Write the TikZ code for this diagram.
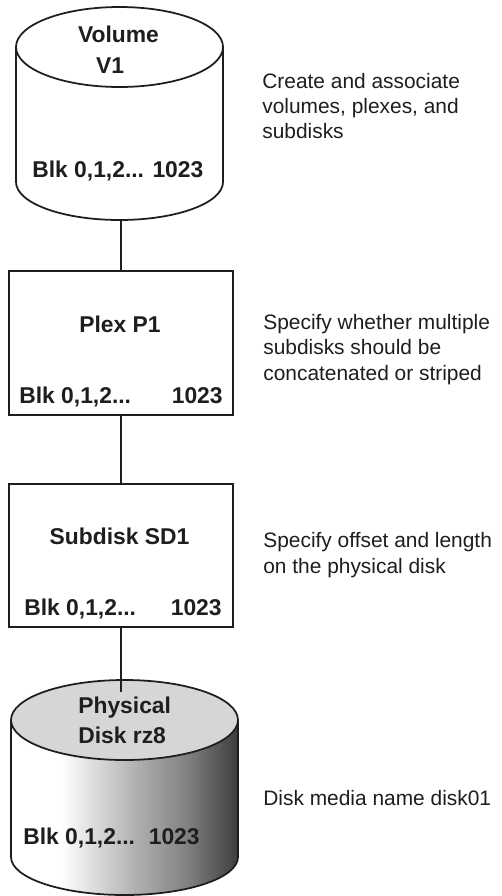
\documentclass[tikz,border=0pt]{standalone}
\usepackage{fontspec}
\setmainfont{Liberation Sans}
\definecolor{ink}{HTML}{1E1E1E}
\definecolor{diskTop}{HTML}{D6D6D6}
% side of the physical disk: white on the left, darkening to the right
\pgfdeclarehorizontalshading{diskside}{100bp}{%
  color(0bp)=(white); color(25bp)=(white); color(36bp)=(white);
  color(52bp)=(black!30); color(64bp)=(black!50); color(75bp)=(black!76);
  color(100bp)=(black!76)}
\begin{document}
\begin{tikzpicture}[x=0.02cm,y=-0.02cm,
  cyl/.style={draw=ink,line width=1pt},
  layerbox/.style={draw=ink,line width=1.4pt,fill=white,minimum width=4.48cm,inner sep=0pt},
  conn/.style={draw=ink,line width=0.6pt},
  lbl/.style={inner sep=0pt,text=ink,font=\fontsize{13}{15}\selectfont\bfseries},
  note/.style={inner sep=0pt,text=ink,align=left,font=\fontsize{11.9}{14.3}\selectfont}]
\useasboundingbox[fill=white] (0,0) rectangle (502,896);

% volume cylinder
\draw[cyl,fill=white] (16,47) -- (16,182)
  arc[start angle=180,end angle=0,x radius=103.5,y radius=38] -- (223,47);
\draw[cyl] (119.5,47) ellipse [x radius=103.5,y radius=40];
\coordinate (volbot) at (121,220);
\node[lbl,anchor=base] (voltitle) at (118.5,42) {Volume};
\node[lbl,anchor=base] (volname) at (110,73) {V1};
\node[lbl,anchor=base west] (volblk) at (32,177) {Blk 0,1,2... 1023};

% plex and subdisk boxes
\node[layerbox,minimum height=2.88cm] (plex) at (121,343) {};
\node[lbl,anchor=base] (plextitle) at (120,332) {Plex P1};
\node[lbl,anchor=base west] (plexblk) at (19,403) {Blk 0,1,2...};
\node[lbl,anchor=base east] (plexend) at (223,403) {1023};

\node[layerbox,minimum height=2.86cm] (sub) at (121,555.5) {};
\node[lbl,anchor=base] (subtitle) at (119.5,544) {Subdisk SD1};
\node[lbl,anchor=base west] (subblk) at (24,615) {Blk 0,1,2...};
\node[lbl,anchor=base east] (subend) at (222,615) {1023};

% physical disk
\shade[shading=diskside] (11,720) -- (11,857)
  arc[start angle=180,end angle=0,x radius=113.5,y radius=38] -- (238,720) -- cycle;
\draw[cyl] (11,720) -- (11,857)
  arc[start angle=180,end angle=0,x radius=113.5,y radius=38] -- (238,720);
\draw[cyl,fill=diskTop] (124.5,720) ellipse [x radius=113.5,y radius=40];
\coordinate (diskin) at (121,692);
\node[lbl,anchor=base west] (disktitle) at (78,713) {Physical};
\node[lbl,anchor=base west] (diskname) at (78,743) {Disk rz8};
\node[lbl,anchor=base west] (diskblk) at (23,844) {Blk 0,1,2...};
\node[lbl,anchor=base east] (diskend) at (200,844) {1023};

% connectors
\draw[conn] (volbot) -- (plex.north);
\draw[conn] (plex.south) -- (sub.north);
\draw[conn] (sub.south) -- (diskin);

% descriptions (base anchor sits on the last line)
\node[note,anchor=base west] (n1) at (262,138.5) {Create and associate\\volumes, plexes, and\\subdisks};
\node[note,anchor=base west] (n2) at (263,380) {Specify whether multiple\\subdisks should be\\concatenated or striped};
\node[note,anchor=base west] (n3) at (263,573) {Specify offset and length\\on the physical disk};
\node[note,anchor=base west] (n4) at (263,805) {Disk media name disk01};
\end{tikzpicture}
\end{document}
